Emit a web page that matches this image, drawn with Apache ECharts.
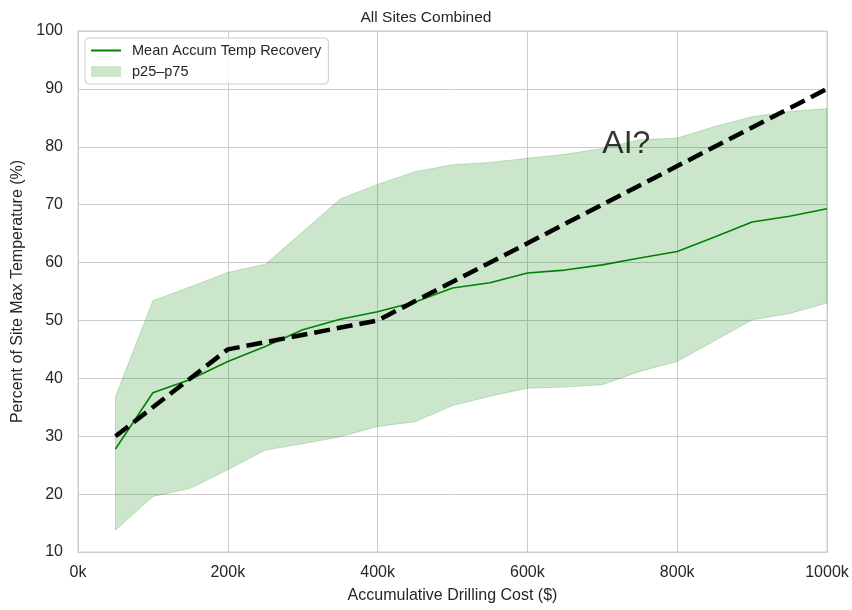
<!DOCTYPE html>
<html>
<head>
<meta charset="utf-8">
<style>
  html, body { margin: 0; padding: 0; background: #ffffff; }
  #chart { width: 852px; height: 610px; }
</style>
<script src="https://cdn.jsdelivr.net/npm/echarts@6/dist/echarts.min.js"></script>
</head>
<body>
<div id="chart"></div>
<script>
// Accumulated drilling cost, in thousands of dollars
const costK = [50, 100, 150, 200, 250, 300, 350, 400, 450, 500,
               550, 600, 650, 700, 750, 800, 850, 900, 950, 1000];
// Mean accumulated temperature recovery (% of site max)
const meanRecovery = [27.8, 37.5, 39.8, 42.9, 45.5, 48.4, 50.2, 51.5, 53.2, 55.6,
                      56.5, 58.2, 58.7, 59.6, 60.8, 61.9, 64.4, 67.0, 68.0, 69.3];
// 25th and 75th percentiles
const p25 = [13.8, 19.6, 21.0, 24.2, 27.6, 28.7, 29.9, 31.7, 32.5, 35.3,
             36.9, 38.3, 38.5, 38.9, 41.2, 42.9, 46.5, 50.1, 51.2, 53.0];
const p75 = [36.8, 53.4, 55.8, 58.3, 59.7, 65.3, 71.0, 73.5, 75.7, 76.9,
             77.3, 78.0, 78.7, 79.7, 81.2, 81.5, 83.5, 85.2, 86.1, 86.6];
// Hypothetical "AI" trajectory
const aiCostK = [50, 200, 400, 1000];
const aiValue = [30, 45, 50, 90];
const aiLabelAt = [700, 80.5];

const textColor = '#262626';
const gridColor = '#cccccc';
const bandColor = 'rgba(0,128,0,0.2)';
const fontFamily = '"Liberation Sans", Arial, sans-serif';

const zip = (a, b) => a.map((v, i) => [v, b[i]]);
const bandRows = costK.map((x, i) => [x, p25[i], p75[i]]);

// Interquartile band: one polygon through the upper edge and back along the lower edge
function renderBand(params, api) {
  if (params.dataIndex !== 0) return null;
  const upper = bandRows.map(r => api.coord([r[0], r[2]]));
  const lower = bandRows.slice().reverse().map(r => api.coord([r[0], r[1]]));
  return {
    type: 'polygon',
    shape: { points: upper.concat(lower) },
    style: { fill: bandColor, stroke: bandColor, lineWidth: 1 }
  };
}

const chart = echarts.init(document.getElementById('chart'), null, { renderer: 'canvas' });

chart.setOption({
  animation: false,
  backgroundColor: '#ffffff',
  textStyle: { fontFamily: fontFamily, color: textColor },
  title: {
    text: 'All Sites Combined',
    left: 'center',
    top: 5,
    textStyle: { fontSize: 15.5, fontWeight: 'normal', color: textColor, fontFamily: fontFamily }
  },
  grid: {
    left: 78, right: 25, top: 31, bottom: 58,
    show: true, borderColor: gridColor, borderWidth: 1
  },
  legend: {
    orient: 'vertical',
    left: 85, top: 38,
    padding: [5, 7, 5, 5],
    itemWidth: 30, itemHeight: 11, itemGap: 6,
    backgroundColor: 'rgba(255,255,255,0.8)',
    borderColor: gridColor, borderWidth: 1, borderRadius: 4,
    textStyle: { fontSize: 14.5, color: textColor, fontFamily: fontFamily, padding: [0, 0, 0, 6] },
    data: [
      { name: 'Mean Accum Temp Recovery', itemStyle: { color: 'rgba(0,0,0,0)', borderWidth: 0 } },
      { name: 'p25–p75', icon: 'rect', itemStyle: { color: bandColor } }
    ]
  },
  xAxis: {
    type: 'value',
    min: 0, max: 1000, interval: 200,
    name: 'Accumulative Drilling Cost ($)',
    nameLocation: 'middle',
    nameGap: 36,
    nameTextStyle: { fontSize: 16, color: textColor, fontFamily: fontFamily },
    axisLine: { show: true, lineStyle: { color: gridColor } },
    axisTick: { show: false },
    axisLabel: { fontSize: 16, color: textColor, margin: 13, formatter: v => v + 'k' },
    splitLine: { show: true, lineStyle: { color: gridColor, width: 1 } }
  },
  yAxis: {
    type: 'value',
    min: 10, max: 100, interval: 10,
    name: 'Percent of Site Max Temperature (%)',
    nameLocation: 'middle',
    nameGap: 50,
    nameTextStyle: { fontSize: 16, color: textColor, fontFamily: fontFamily },
    axisLine: { show: true, lineStyle: { color: gridColor } },
    axisTick: { show: false },
    axisLabel: { fontSize: 16, color: textColor, margin: 15 },
    splitLine: { show: true, lineStyle: { color: gridColor, width: 1 } }
  },
  series: [
    {
      name: 'p25–p75',
      type: 'custom',
      renderItem: renderBand,
      data: bandRows,
      encode: { x: 0, y: [1, 2] },
      itemStyle: { color: bandColor },
      silent: true,
      z: 1
    },
    {
      name: 'Mean Accum Temp Recovery',
      type: 'line',
      symbol: 'none',
      data: zip(costK, meanRecovery),
      lineStyle: { color: '#008000', width: 1.6 },
      itemStyle: { color: '#008000' },
      z: 3
    },
    {
      name: 'AI',
      type: 'line',
      symbol: 'none',
      data: zip(aiCostK, aiValue),
      lineStyle: { color: '#000000', width: 4.5, type: [16, 7], cap: 'butt' },
      itemStyle: { color: '#000000' },
      z: 4
    },
    {
      name: 'AI label',
      type: 'scatter',
      symbolSize: 0,
      data: [aiLabelAt],
      silent: true,
      itemStyle: { color: '#000000' },
      label: {
        show: true,
        position: 'right',
        distance: 0,
        formatter: 'AI?',
        fontSize: 32,
        color: '#000000',
        textBorderWidth: 0,
        fontFamily: fontFamily
      },
      z: 5
    }
  ]
});
</script>
</body>
</html>
